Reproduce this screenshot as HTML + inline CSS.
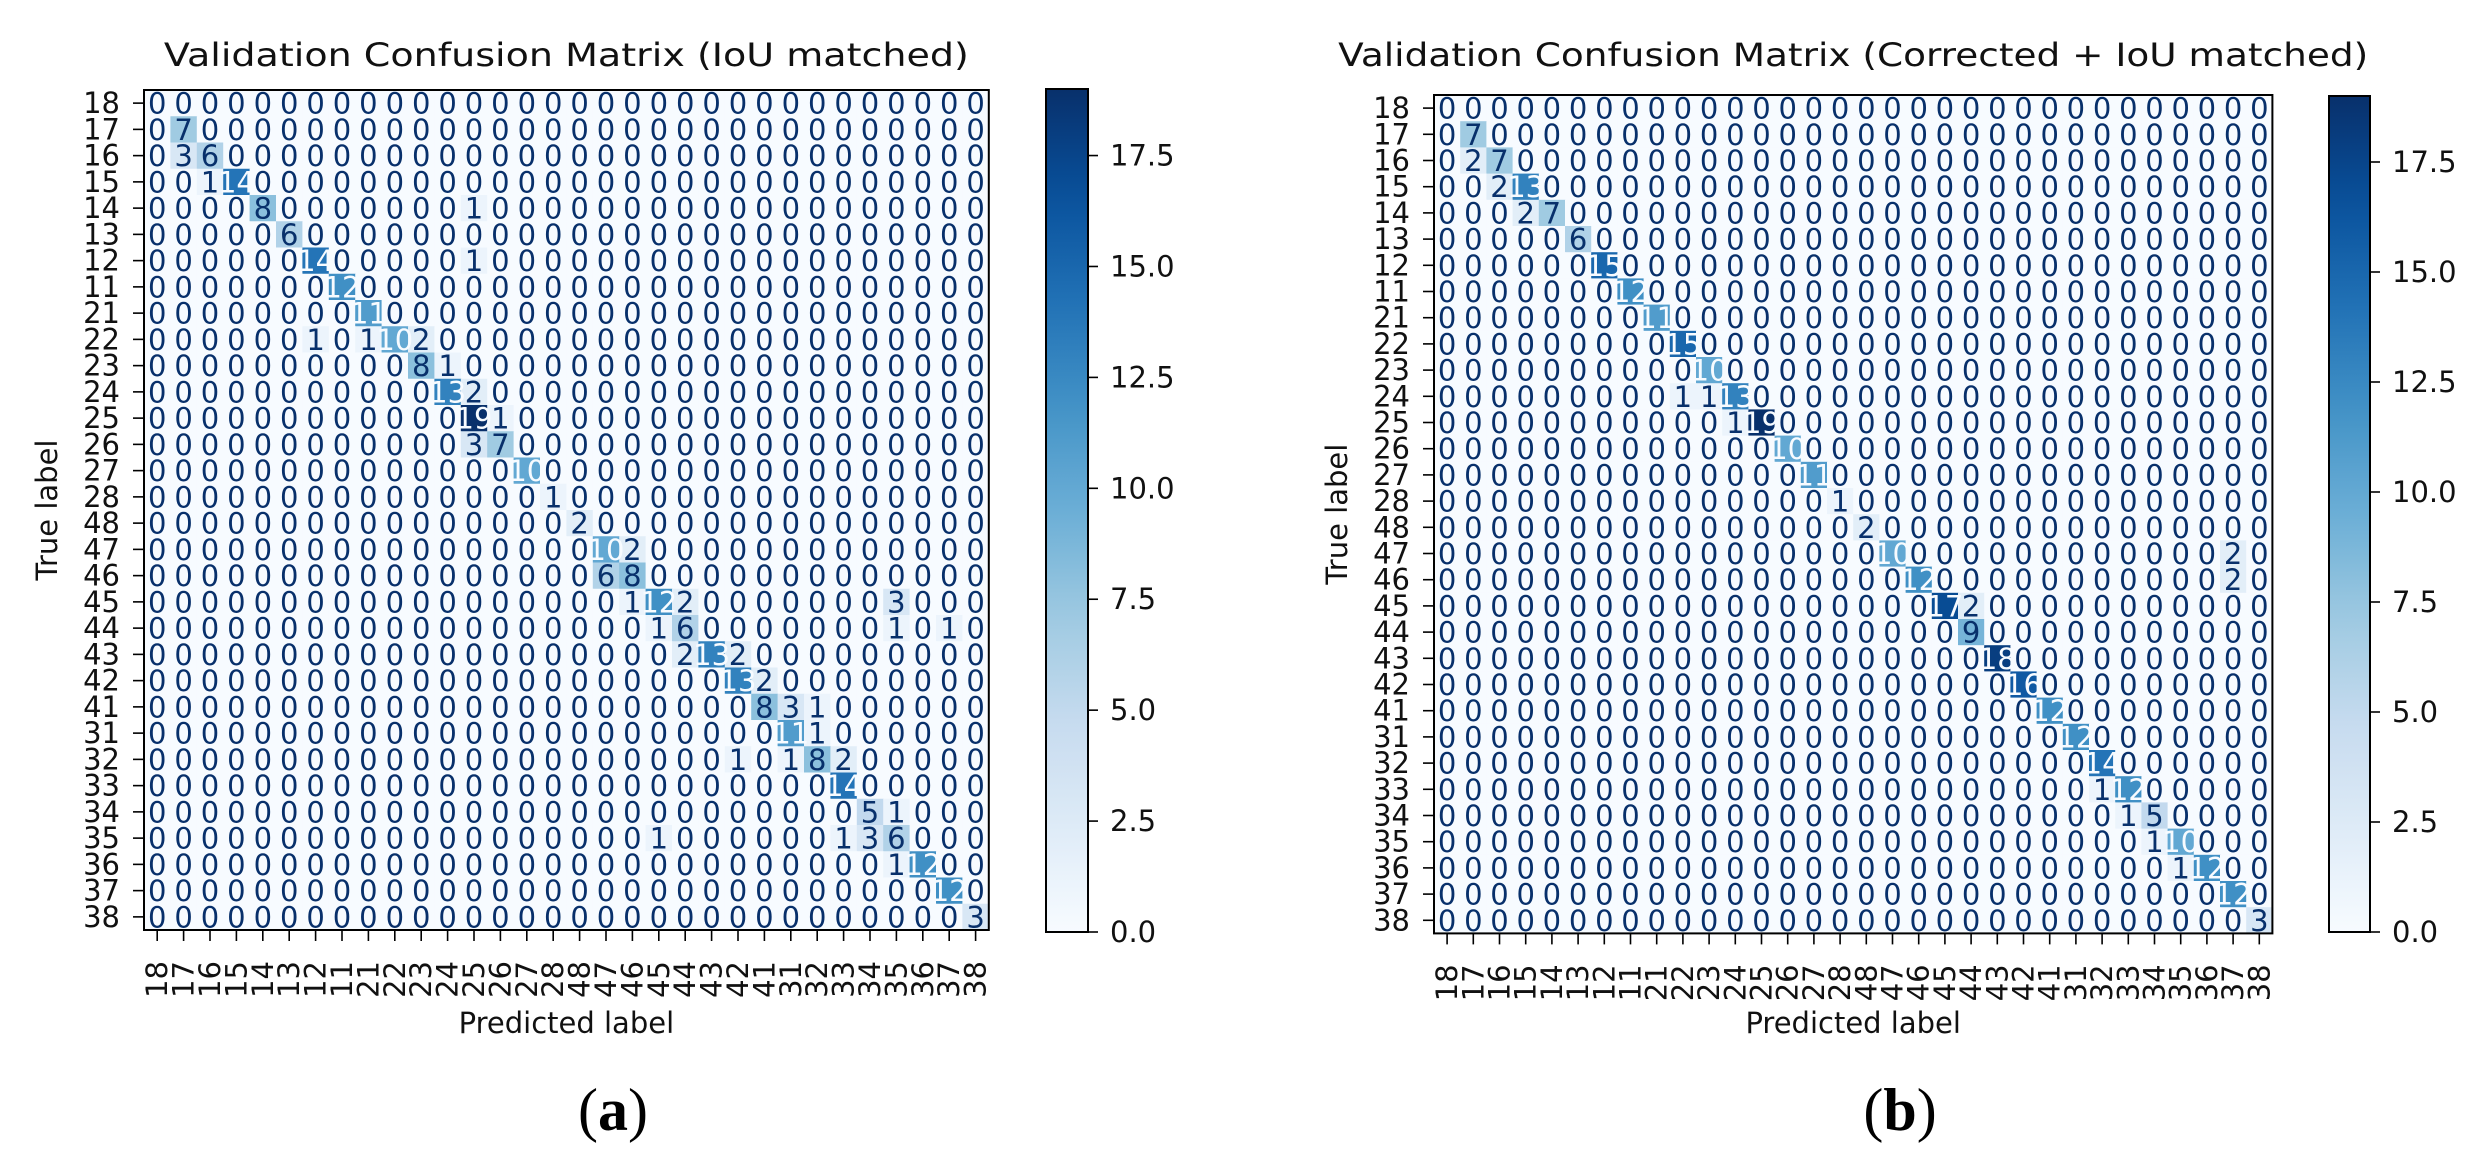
<!DOCTYPE html>
<html><head><meta charset="utf-8"><style>
html,body{margin:0;padding:0;background:#fff;}
svg{display:block;}
text{font-family:"DejaVu Sans","Liberation Sans",sans-serif;}
</style></head><body>
<svg id="fig" width="2484" height="1171" viewBox="0 0 2484 1171" xmlns="http://www.w3.org/2000/svg">
<rect width="2484" height="1171" fill="#fff"/>
</svg>
<script>
const classLabels = ["18","17","16","15","14","13","12","11","21","22","23","24","25","26","27","28","48","47","46","45","44","43","42","41","31","32","33","34","35","36","37","38"];
const leftDiag = [0,7,6,14,8,6,14,12,11,10,8,13,19,7,10,1,2,10,8,12,6,13,13,8,11,8,14,5,6,12,12,3];
const leftOffRows = [2,3,4,6,9,9,9,10,11,12,13,17,18,19,19,19,20,20,20,21,21,22,23,23,24,25,25,25,27,28,28,28,29];
const leftOffCols = [1,2,12,12,6,8,10,11,12,13,12,18,17,18,20,28,19,28,30,20,22,23,24,25,25,22,24,26,28,19,26,27,28];
const leftOffVals = [3,1,1,1,1,1,2,1,2,1,3,2,6,1,2,3,1,1,1,2,2,2,3,1,1,1,1,2,1,1,1,3,1];
const rightDiag = [0,7,7,13,7,6,15,12,11,15,10,13,19,10,11,1,2,10,12,17,9,18,16,12,12,14,12,5,10,12,12,3];
const rightOffRows = [2,3,4,11,11,12,17,18,19,26,27,28,29];
const rightOffCols = [1,2,3,9,10,11,30,30,20,25,26,27,28];
const rightOffVals = [2,2,2,1,1,1,2,2,2,1,1,1,1];
const cbTicks = [0,2.5,5,7.5,10,12.5,15,17.5];
const cbTickLabels = ["0.0","2.5","5.0","7.5","10.0","12.5","15.0","17.5"];
const vMax = 19;

const NS="http://www.w3.org/2000/svg";
const svg=document.getElementById('fig');
function mk(tag,attrs,parent){const e=document.createElementNS(NS,tag);for(const k in attrs)e.setAttribute(k,attrs[k]);(parent||svg).appendChild(e);return e;}
const stops=["#f7fbff","#deebf7","#c6dbef","#9ecae1","#6baed6","#4292c6","#2171b5","#08519c","#08306b"];
function hx(h){return [1,3,5].map(i=>parseInt(h.substr(i,2),16));}
function blues(t){t=Math.max(0,Math.min(1,t));const p=t*(stops.length-1);const i=Math.min(stops.length-2,Math.floor(p));const f=p-i;const a=hx(stops[i]),b=hx(stops[i+1]);return "rgb("+a.map((v,k)=>Math.round(v+(b[k]-v)*f)).join(",")+")";}

function buildMatrix(diag,offR,offC,offV){
  const n=classLabels.length;const m=[];
  for(let i=0;i<n;i++){m.push(new Array(n).fill(0));m[i][i]=diag[i];}
  for(let k=0;k<offR.length;k++)m[offR[k]][offC[k]]=offV[k];
  return m;
}

function panel(cfg){
  const g=mk('g',{});
  
  
  const n=classLabels.length;
  const m=buildMatrix(cfg.diag,cfg.offR,cfg.offC,cfg.offV);
  const cx=i=>cfg.x0+(i+0.5)*cfg.cw;
  const cy=i=>cfg.y0+(i+0.5)*cfg.ch;
  const W=n*cfg.cw,H=n*cfg.ch;
  const cells=mk('g',{},g);
  
  
  for(let r=0;r<n;r++)for(let c=0;c<n;c++){
    const v=m[r][c];
    const rc=mk('rect',{x:cfg.x0+c*cfg.cw,y:cfg.y0+r*cfg.ch,width:cfg.cw+0.5,height:cfg.ch+0.5,fill:blues(v/vMax)},cells);
    
    
  }
  for(let r=0;r<n;r++)for(let c=0;c<n;c++){
    const v=m[r][c];
    const t=mk('text',{x:cx(c),y:cy(r)+10.5,'text-anchor':'middle','font-size':29,fill:v>vMax/2?'#f7fbff':'#08306b'},cells);
    t.textContent=String(v);
    
    
  }
  const frame=mk('rect',{x:cfg.x0,y:cfg.y0,width:W,height:H,fill:'none',stroke:'#000','stroke-width':2},g);
  
  
  for(let i=0;i<n;i++){
    mk('line',{x1:cfg.x0-11,x2:cfg.x0,y1:cy(i),y2:cy(i),stroke:'#000','stroke-width':1.6},g);
    const yl=mk('text',{x:cfg.x0-24,y:cy(i)+10,'text-anchor':'end','font-size':29,fill:'#111'},g);
    yl.textContent=classLabels[i];
    
    
    mk('line',{x1:cx(i),x2:cx(i),y1:cfg.y0+H,y2:cfg.y0+H+11,stroke:'#000','stroke-width':1.6},g);
    const xl=mk('text',{x:0,y:0,'text-anchor':'end','font-size':29,fill:'#111',transform:'translate('+(cx(i)+10)+','+(cfg.y0+H+31)+') rotate(-90)'},g);
    xl.textContent=classLabels[i];
    
    
  }
  const title=mk('text',{x:cfg.x0+W/2,y:66,'text-anchor':'middle','font-size':32,fill:'#111',textLength:cfg.titleLen,lengthAdjust:'spacingAndGlyphs'},g);
  title.textContent=cfg.title;
  
  
  const xt=mk('text',{x:cfg.x0+W/2,y:1033,'text-anchor':'middle','font-size':29,fill:'#111'},g);
  xt.textContent='Predicted label';
  
  
  const yt=mk('text',{x:0,y:0,'text-anchor':'middle','font-size':29,fill:'#111',transform:'translate('+(cfg.x0-87)+','+(cfg.y0+H/2)+') rotate(-90)'},g);
  yt.textContent='True label';
  
  
  const cb=mk('g',{},g);
  
  
  const gid='grad'+cfg.name;
  const defs=mk('defs',{},cb);
  const lg=mk('linearGradient',{id:gid,x1:0,y1:1,x2:0,y2:0},defs);
  for(let k=0;k<=20;k++)mk('stop',{offset:k/20,'stop-color':blues(k/20)},lg);
  const cbY=v=>cfg.cbBot-(v/vMax)*(cfg.cbBot-cfg.cbTop);
  mk('rect',{x:cfg.cbX,y:cfg.cbTop,width:cfg.cbW,height:cfg.cbBot-cfg.cbTop,fill:'url(#'+gid+')',stroke:'#000','stroke-width':2},cb);
  for(let k=0;k<cbTicks.length;k++){
    const y=cbY(cbTicks[k]);
    mk('line',{x1:cfg.cbX+cfg.cbW,x2:cfg.cbX+cfg.cbW+10,y1:y,y2:y,stroke:'#000','stroke-width':1.6},cb);
    const tl=mk('text',{x:cfg.cbX+cfg.cbW+22,y:y+10,'font-size':29,fill:'#111'},cb);
    tl.textContent=cbTickLabels[k];
    
    
  }
  const sub=mk('text',{x:cfg.subX,y:1130,'text-anchor':'middle','font-size':60,fill:'#000',style:'font-family:"Liberation Serif",serif'},g);
  sub.innerHTML='(<tspan font-weight="bold">'+cfg.sub+'</tspan>)';
  
  
}

panel({name:'panel-a',x0:144,y0:90,cw:26.4,ch:26.25,diag:leftDiag,offR:leftOffRows,offC:leftOffCols,offV:leftOffVals,
  title:'Validation Confusion Matrix (IoU matched)',titleLen:805,cbX:1046,cbW:42,cbTop:89,cbBot:932,subX:613,sub:'a'});
panel({name:'panel-b',x0:1434,y0:95,cw:26.2,ch:26.2,diag:rightDiag,offR:rightOffRows,offC:rightOffCols,offV:rightOffVals,
  title:'Validation Confusion Matrix (Corrected + IoU matched)',titleLen:1030,cbX:2329,cbW:41,cbTop:96,cbBot:932,subX:1900,sub:'b'});
</script>
</body></html>
